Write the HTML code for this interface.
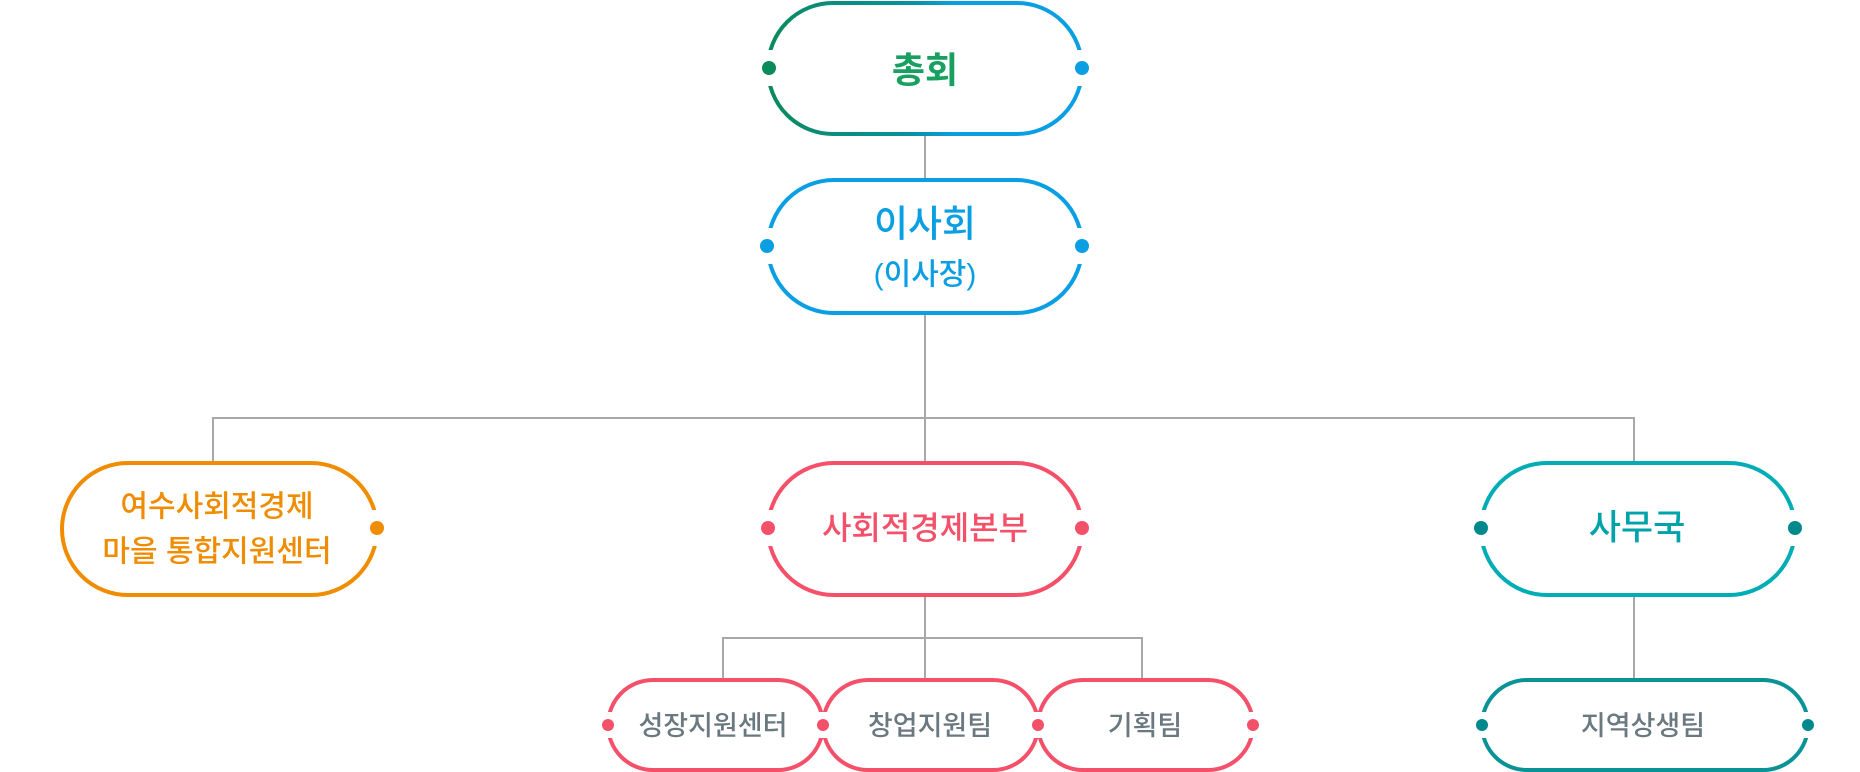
<!DOCTYPE html>
<html><head><meta charset="utf-8"><style>
html,body{margin:0;padding:0;background:#fff;width:1860px;height:772px;overflow:hidden}
svg text{font-family:"Liberation Sans","Noto Sans CJK KR",sans-serif;text-anchor:middle;dominant-baseline:central}
</style></head><body>
<svg width="1860" height="772" viewBox="0 0 1860 772" xmlns="http://www.w3.org/2000/svg">
<defs>
<linearGradient id="g1" x1="0" x2="1" y1="0" y2="0">
<stop offset="0" stop-color="#0b8a5c"/><stop offset="0.45" stop-color="#0891a0"/><stop offset="0.6" stop-color="#0a9fe3"/><stop offset="1" stop-color="#0a9fe3"/>
</linearGradient>
</defs>
<g stroke="#a8a8a8" stroke-width="2" fill="none">
<line x1="925" y1="134" x2="925" y2="179"/>
<line x1="925" y1="313" x2="925" y2="462"/>
<polyline points="213,462 213,418 1634,418 1634,462"/>
<line x1="925" y1="595" x2="925" y2="678"/>
<polyline points="723,678 723,638 1142,638 1142,678"/>
<line x1="1634" y1="595" x2="1634" y2="678"/>
</g>
<g fill="none" stroke-width="4">
<rect x="768" y="3" width="314" height="131" rx="65" stroke="url(#g1)"/>
<rect x="768" y="180" width="314" height="133" rx="66" stroke="#0a9fe3"/>
<rect x="62" y="463" width="315" height="132" rx="66" stroke="#f08c00"/>
<rect x="768" y="463" width="314" height="132" rx="66" stroke="#f5506a"/>
<rect x="1481" y="463" width="314" height="132" rx="66" stroke="#00adb5"/>
<rect x="608" y="680" width="215" height="90" rx="45" stroke="#f5506a"/>
<rect x="823" y="680" width="215" height="90" rx="45" stroke="#f5506a"/>
<rect x="1038" y="680" width="215" height="90" rx="45" stroke="#f5506a"/>
<rect x="1482" y="680" width="326" height="90" rx="45" stroke="#0a9396"/>
</g>
<g fill="#fff">
<rect x="758" y="50" width="20" height="36"/><rect x="1072" y="50" width="20" height="36"/>
<rect x="758" y="228" width="20" height="36"/><rect x="1072" y="228" width="20" height="36"/>
<rect x="367" y="510" width="20" height="36"/>
<rect x="758" y="510" width="20" height="36"/><rect x="1072" y="510" width="20" height="36"/>
<rect x="1471" y="510" width="20" height="36"/><rect x="1785" y="510" width="20" height="36"/>
<rect x="598" y="712" width="20" height="26"/><rect x="813" y="712" width="20" height="26"/>
<rect x="1028" y="712" width="20" height="26"/><rect x="1243" y="712" width="20" height="26"/>
<rect x="1472" y="712" width="20" height="26"/><rect x="1798" y="712" width="20" height="26"/>
</g>
<circle cx="769" cy="68" r="7" fill="#0b8a5c"/><circle cx="1082" cy="68" r="7" fill="#0a9fe3"/>
<circle cx="767" cy="246" r="7" fill="#0a9fe3"/><circle cx="1082" cy="246" r="7" fill="#0a9fe3"/>
<circle cx="377" cy="528" r="7" fill="#f08c00"/>
<circle cx="768" cy="528" r="7" fill="#f5506a"/><circle cx="1082" cy="528" r="7" fill="#f5506a"/>
<circle cx="1481" cy="528" r="7" fill="#00898c"/><circle cx="1795" cy="528" r="7" fill="#00898c"/>
<circle cx="608" cy="725" r="6" fill="#f5506a"/><circle cx="823" cy="725" r="6" fill="#f5506a"/>
<circle cx="1038" cy="725" r="6" fill="#f5506a"/><circle cx="1253" cy="725" r="6" fill="#f5506a"/>
<circle cx="1482" cy="725" r="6" fill="#00898c"/><circle cx="1808" cy="725" r="6" fill="#00898c"/>
<text x="925" y="70" font-size="36" font-weight="700" fill="#18a060">총회</text>
<text x="925" y="224" font-size="37" font-weight="500" fill="#0a9fe3">이사회</text>
<text x="925" y="275" font-size="30" font-weight="500" fill="#0a9fe3">(이사장)</text>
<text x="217" y="507" font-size="30" font-weight="500" fill="#f08c00">여수사회적경제</text>
<text x="217" y="552" font-size="30" font-weight="500" fill="#f08c00">마을 통합지원센터</text>
<text x="925" y="528" font-size="32" font-weight="500" fill="#f5506a">사회적경제본부</text>
<text x="1637" y="528" font-size="35" font-weight="500" fill="#00a3aa">사무국</text>
<text x="713" y="726" font-size="27" font-weight="500" fill="#6a7880">성장지원센터</text>
<text x="930" y="726" font-size="27" font-weight="500" fill="#6a7880">창업지원팀</text>
<text x="1145" y="726" font-size="27" font-weight="500" fill="#6a7880">기획팀</text>
<text x="1643" y="726" font-size="27" font-weight="500" fill="#6a7880">지역상생팀</text>
</svg>
</body></html>
